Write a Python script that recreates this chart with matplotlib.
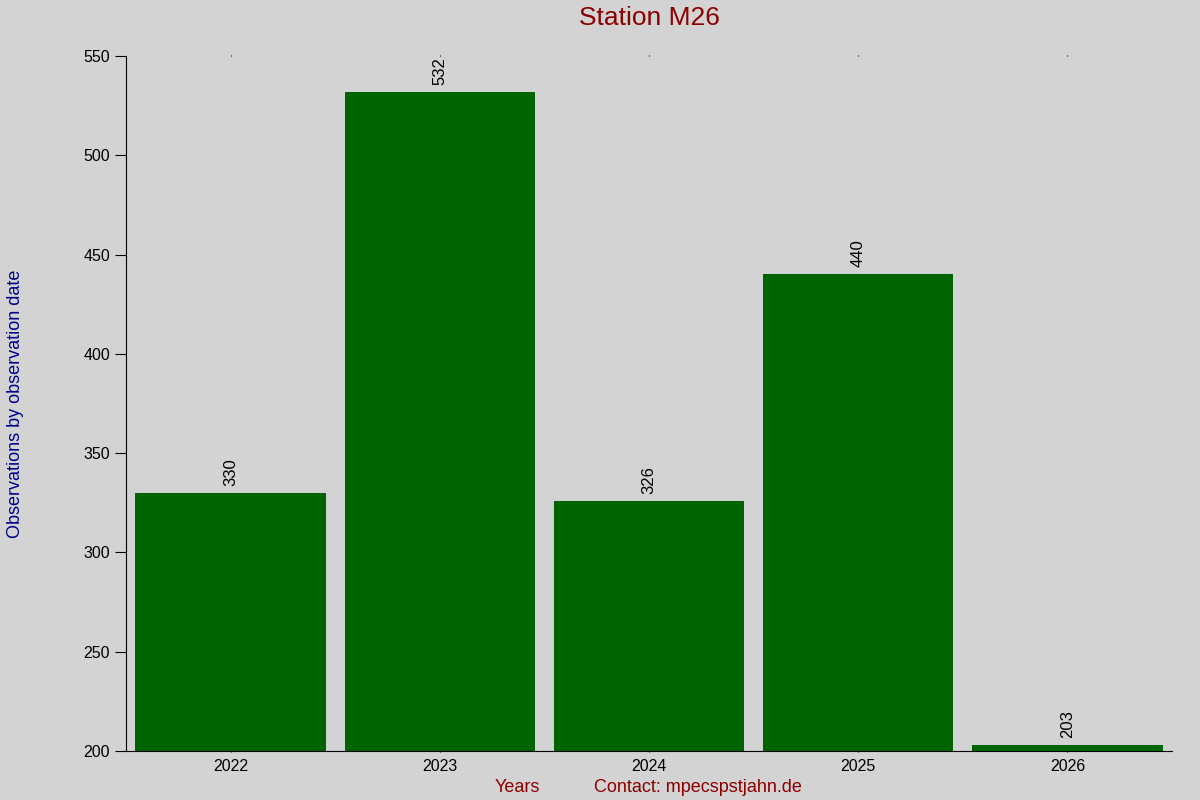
import matplotlib
matplotlib.use('Agg')
import matplotlib.pyplot as plt

plt.rcParams['font.family'] = ['Liberation Sans', 'DejaVu Sans']

# Data
years = ['2022', '2023', '2024', '2025', '2026']
observations = [330, 532, 326, 440, 203]

fig = plt.figure(figsize=(12, 8), dpi=100, facecolor='lightgray')
ax = fig.add_axes([0.105, 0.06125, 0.8717, 0.86875])
ax.set_facecolor('lightgray')

pos = range(len(years))
bars = ax.bar(pos, observations, width=0.91, color='darkgreen')

# rotated value labels above bars
for rect, v in zip(bars, observations):
    ax.annotate(str(v), (rect.get_x() + rect.get_width() / 2, v),
                xytext=(0, 5), textcoords='offset points',
                ha='center', va='bottom', rotation=90, fontsize=12)

ax.set_xlim(-0.5, len(years) - 0.5)
ax.set_ylim(200, 550)
ax.set_yticks(range(200, 551, 50))
ax.set_xticks(list(pos))
ax.set_xticklabels(years)

ax.spines['top'].set_visible(False)
ax.spines['right'].set_visible(False)
ax.tick_params(axis='y', direction='out', length=8, labelsize=11.5)
ax.tick_params(axis='x', length=0, labelsize=11.5, pad=5)
ax.tick_params(axis='x', top=True, length=1)

ax.set_title('Station M26', color='darkred', fontsize=19, pad=22)
ax.set_ylabel('Observations by observation date', color='darkblue', fontsize=13, labelpad=43)
fig.text(0.431, 0.0105, 'Years', color='darkred', fontsize=13, ha='center')
fig.text(0.582, 0.0105, 'Contact: mpecspstjahn.de', color='darkred', fontsize=13, ha='center')

plt.savefig('out.png', dpi=100, facecolor='lightgray')
